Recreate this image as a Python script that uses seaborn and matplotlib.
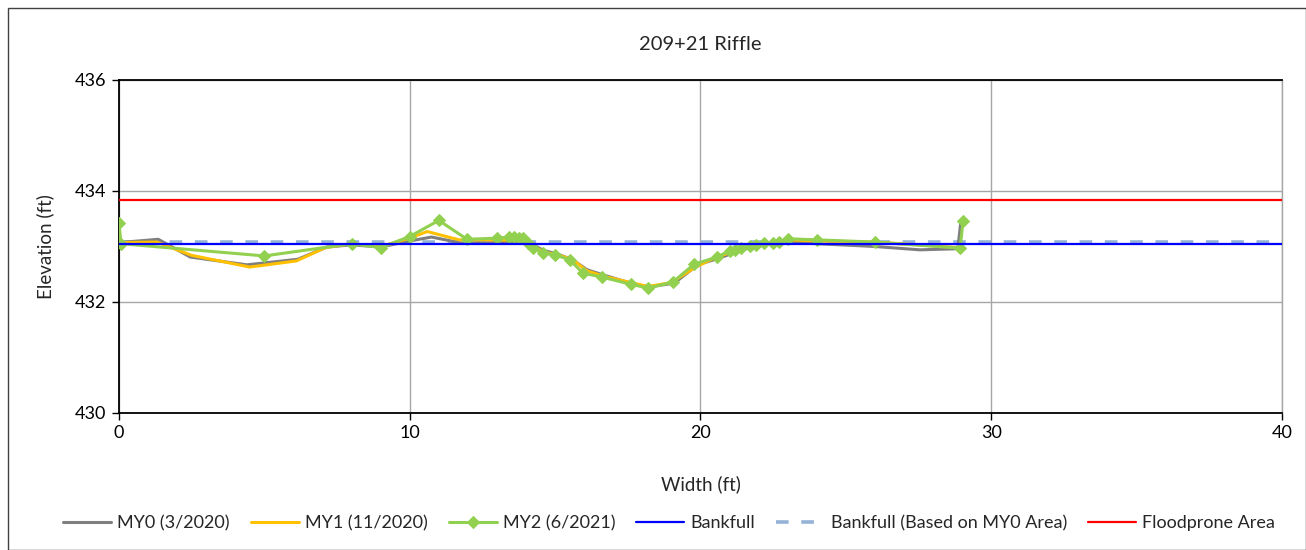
import matplotlib
matplotlib.use("Agg")
import matplotlib.pyplot as plt
import seaborn as sns
import pandas as pd

# ---- data ----
my0_x = [0.0, 1.35, 2.45, 4.4, 6.15, 7.15, 8.0, 9.0, 10.0, 10.75, 11.8, 13.0, 14.1, 14.6, 15.1, 15.6, 16.1, 16.7, 17.6, 18.2, 19.1, 19.9, 20.7, 21.2, 21.7, 22.2, 22.7, 23.0, 24.0, 26.0, 27.55, 28.85, 28.95]
my0_y = [433.07, 433.13, 432.81, 432.67, 432.77, 432.99, 433.03, 432.99, 433.10, 433.17, 433.06, 433.07, 433.07, 432.93, 432.86, 432.76, 432.58, 432.48, 432.34, 432.27, 432.34, 432.67, 432.80, 432.90, 432.98, 433.03, 433.07, 433.10, 433.05, 433.00, 432.94, 432.96, 433.43]

my1_x = [0.0, 1.3, 2.5, 4.5, 6.1, 7.1, 8.0, 9.0, 10.0, 10.6, 11.7, 13.0, 14.0, 14.6, 15.1, 15.6, 16.1, 16.7, 17.6, 18.2, 19.0, 19.8, 20.5, 21.2, 21.7, 22.2, 22.7, 23.0, 24.0, 26.0, 28.9]
my1_y = [433.07, 433.08, 432.84, 432.63, 432.74, 432.98, 433.05, 433.00, 433.15, 433.27, 433.12, 433.12, 433.10, 432.90, 432.85, 432.76, 432.56, 432.46, 432.35, 432.28, 432.35, 432.62, 432.80, 432.92, 432.99, 433.04, 433.08, 433.12, 433.10, 433.08, 432.98]

my2_x = [0.0, 0.07, 5.0, 8.0, 9.0, 10.0, 11.0, 11.97, 13.0, 13.4, 13.6, 13.75, 13.9, 14.07, 14.24, 14.6, 15.0, 15.5, 15.96, 16.6, 17.6, 18.2, 19.05, 19.78, 20.57, 21.0, 21.2, 21.4, 21.7, 21.9, 22.2, 22.5, 22.7, 23.0, 24.0, 26.0, 28.93, 29.03]
my2_y = [433.42, 433.05, 432.83, 433.05, 432.98, 433.18, 433.47, 433.13, 433.15, 433.17, 433.17, 433.16, 433.15, 433.06, 432.97, 432.88, 432.85, 432.76, 432.52, 432.45, 432.32, 432.25, 432.36, 432.68, 432.81, 432.92, 432.93, 432.97, 433.00, 433.02, 433.06, 433.07, 433.08, 433.14, 433.12, 433.08, 432.97, 433.46]

bankfull_x = [0, 40]
bankfull_y = [433.05, 433.05]
bankfull_my0_y = [433.09, 433.09]
floodprone_y = [433.84, 433.84]

title = "209+21 Riffle"
xlabel = "Width (ft)"
ylabel = "Elevation (ft)"

# ---- plot ----
sns.set_theme(style="white")
plt.rcParams['font.family'] = ['Lato', 'DejaVu Sans']

fig = plt.figure(figsize=(13.06, 5.5), dpi=100)
ax = fig.add_axes([119/1306, 1-413/550, (1282-119)/1306, (413-80)/550])

# outer border
fig.patches.append(plt.Rectangle((0.006, 0.0), 0.994, 0.985, transform=fig.transFigure,
                                 fill=False, edgecolor="#404040", linewidth=1.0))

df0 = pd.DataFrame({"x": my0_x, "y": my0_y})
df1 = pd.DataFrame({"x": my1_x, "y": my1_y})
df2 = pd.DataFrame({"x": my2_x, "y": my2_y})

sns.lineplot(data=df0, x="x", y="y", sort=False, color="#7F7F7F", linewidth=2.2, ax=ax, label="MY0 (3/2020)", zorder=3)
sns.lineplot(data=df1, x="x", y="y", sort=False, color="#FFC000", linewidth=2.2, ax=ax, label="MY1 (11/2020)", zorder=4)
sns.lineplot(data=df2, x="x", y="y", sort=False, color="#92D050", linewidth=2.2, marker="D", markersize=6.5,
             markeredgecolor="#92D050", ax=ax, label="MY2 (6/2021)", zorder=5)
sns.lineplot(x=bankfull_x, y=bankfull_y, color="#0000FF", linewidth=1.6, ax=ax, label="Bankfull", zorder=6)
sns.lineplot(x=bankfull_x, y=bankfull_my0_y, color="#95B3D7", linewidth=2.6, linestyle=(0, (3.5, 3.5)), ax=ax,
             label="Bankfull (Based on MY0 Area)", zorder=2)
sns.lineplot(x=bankfull_x, y=floodprone_y, color="#FF0000", linewidth=1.6, ax=ax, label="Floodprone Area", zorder=6)

ax.set_xlim(0, 40)
ax.set_ylim(430, 436)
ax.set_xticks([0, 10, 20, 30, 40])
ax.set_yticks([430, 432, 434, 436])
ax.grid(True, color="#A6A6A6", linewidth=1.0)
ax.set_axisbelow(True)
for side in ["left", "bottom", "top"]:
    ax.spines[side].set_color("black")
    ax.spines[side].set_linewidth(1.3)
ax.spines["right"].set_color("#A6A6A6")
ax.spines["right"].set_linewidth(1.0)
ax.tick_params(axis="both", which="both", direction="out", length=5, width=1, color="black",
               labelsize=13, labelcolor="black", bottom=True, left=True)
ax.tick_params(axis="x", pad=4)
ax.tick_params(axis="y", pad=4)

ax.set_xlabel(xlabel, fontsize=13.5, labelpad=24)
ax.set_ylabel(ylabel, fontsize=13.5, labelpad=15)
fig.text(700/1306, 1-45/550, title, ha="center", va="center", fontsize=14.5)

ax.legend(loc="center", bbox_to_anchor=(669/1306, 1-523/550), bbox_transform=fig.transFigure,
          ncol=6, frameon=False, fontsize=13, handlelength=2.66, columnspacing=1.16, handletextpad=0.35)

fig.savefig("out.png", dpi=100)
